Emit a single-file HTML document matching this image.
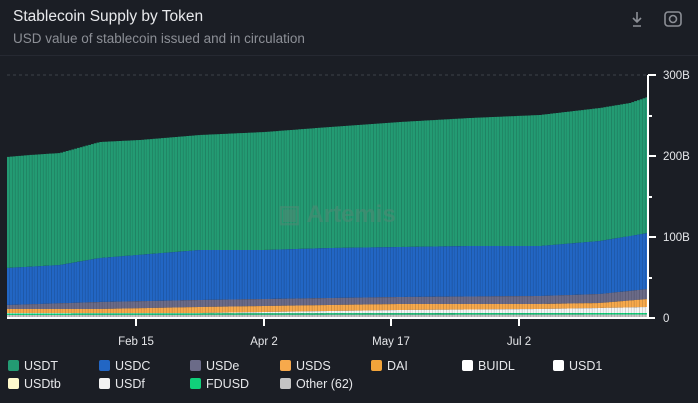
<!DOCTYPE html>
<html><head><meta charset="utf-8"><style>
body{margin:0;background:#1b1e25;width:698px;height:403px;overflow:hidden;font-family:"Liberation Sans",sans-serif;}
.t{position:absolute;left:13px;top:8px;color:#e8e9ec;font-size:15.5px;}
.s{position:absolute;left:13px;top:31px;color:#8c8f96;font-size:13.5px;}
.hr{position:absolute;left:0;top:55px;width:698px;height:1px;background:#262932;}
.lg{position:absolute;font-size:12.5px;color:#e6e7ea;}
.lg i{position:absolute;left:-16px;top:1px;width:11px;height:11px;border-radius:2px;}
</style></head><body>
<div class="t">Stablecoin Supply by Token</div>
<div class="s">USD value of stablecoin issued and in circulation</div>
<div class="hr"></div>
<svg width="698" height="403" style="position:absolute;left:0;top:0">
<g fill="none" stroke="#8c8f96" stroke-width="1.6"><path d="M637 12v10M633 18l4 4 4-4M633 26h8"/><rect x="665" y="12" width="16" height="14" rx="3"/><circle cx="673" cy="19" r="3.5"/></g>
<line x1="7" y1="75" x2="648" y2="75" stroke="#3e4149" stroke-dasharray="3,3"/>
<g id="bars"></g>
<text x="278" y="222" fill="#4f8a74" font-size="24" font-weight="bold" font-family="Liberation Sans" opacity="0.6">▣ Artemis</text>
<line x1="648" y1="75" x2="648" y2="318" stroke="#fff" stroke-width="2"/>
<line x1="7" y1="318" x2="655" y2="318" stroke="#fff" stroke-width="2"/>
<g stroke="#fff" stroke-width="2"><line x1="648" y1="75" x2="656" y2="75"/><line x1="648" y1="116" x2="652" y2="116"/><line x1="648" y1="156" x2="656" y2="156"/><line x1="648" y1="197" x2="652" y2="197"/><line x1="648" y1="237" x2="656" y2="237"/><line x1="648" y1="278" x2="652" y2="278"/>
<line x1="136" y1="318" x2="136" y2="326"/><line x1="264" y1="318" x2="264" y2="326"/><line x1="391" y1="318" x2="391" y2="326"/><line x1="519" y1="318" x2="519" y2="326"/></g>
<g fill="#e6e7ea" font-size="11.5" font-family="Liberation Sans"><text x="663" y="79">300B</text><text x="663" y="160">200B</text><text x="663" y="241">100B</text><text x="663" y="322">0</text>
<g text-anchor="middle"><text x="136" y="345">Feb 15</text><text x="264" y="345">Apr 2</text><text x="391" y="345">May 17</text><text x="519" y="345">Jul 2</text></g></g>
</svg>
<div class="lg" style="left:24px;top:359px"><i style="background:#239b73"></i>USDT</div>
<div class="lg" style="left:115px;top:359px"><i style="background:#2266c4"></i>USDC</div>
<div class="lg" style="left:206px;top:359px"><i style="background:#6b6b88"></i>USDe</div>
<div class="lg" style="left:296px;top:359px"><i style="background:#f7a94c"></i>USDS</div>
<div class="lg" style="left:387px;top:359px"><i style="background:#f2a43a"></i>DAI</div>
<div class="lg" style="left:478px;top:359px"><i style="background:#fff"></i>BUIDL</div>
<div class="lg" style="left:569px;top:359px"><i style="background:#fff"></i>USD1</div>
<div class="lg" style="left:24px;top:377px"><i style="background:#fffacd"></i>USDtb</div>
<div class="lg" style="left:115px;top:377px"><i style="background:#f2f2f2"></i>USDf</div>
<div class="lg" style="left:206px;top:377px"><i style="background:#10d07a"></i>FDUSD</div>
<div class="lg" style="left:296px;top:377px"><i style="background:#c4c4c4"></i>Other (62)</div>
<script>
function interp(pts,x){for(let i=0;i<pts.length-1;i++){if(x<=pts[i+1][0]){let a=pts[i],b=pts[i+1];return a[1]+(b[1]-a[1])*(x-a[0])/(b[0]-a[0]);}}return pts[pts.length-1][1];}
const L=[
["#239b73",[[7,157],[30,155],[60,153],[100,142],[140,140],[200,135],[265,132],[330,127],[400,122],[470,118],[540,115],[600,108],[630,103],[648,97]]],
["#2266c4",[[7,268],[60,265],[100,258],[200,250],[265,250],[330,248],[400,247],[470,246],[540,246],[600,241],[648,233]]],
["#6b6b88",[[7,305],[100,302],[200,300],[265,299],[330,298],[400,297],[540,296],[600,294],[648,289]]],
["#f7a94c",[[7,309],[100,309],[200,307],[265,306],[330,305],[400,304],[540,304],[600,303],[648,299]]],
["#f4f4f4",[[7,313],[200,313],[330,311],[400,310],[540,309],[600,308],[648,307]]],
["#10d07a",[[7,313.5],[648,313]]],
["#c4c4c4",[[7,315],[648,314.5]]]];
let s='';const w=2.8;
for(let x=7;x<648;x+=w){let xm=x+w/2;
for(let k=0;k<L.length;k++){let top=interp(L[k][1],xm),bot=k+1<L.length?interp(L[k+1][1],xm):318;
if(bot>top)s+=`<rect x="${x.toFixed(1)}" y="${top.toFixed(1)}" width="${w}" height="${(bot-top).toFixed(1)}" fill="${L[k][0]}"/>`;}
s+=`<rect x="${(x+w-0.5).toFixed(1)}" y="${interp(L[0][1],xm).toFixed(1)}" width="0.5" height="${(318-interp(L[0][1],xm)).toFixed(1)}" fill="#000" opacity="0.15"/>`;}
document.getElementById('bars').innerHTML=s;
</script>
</body></html>
